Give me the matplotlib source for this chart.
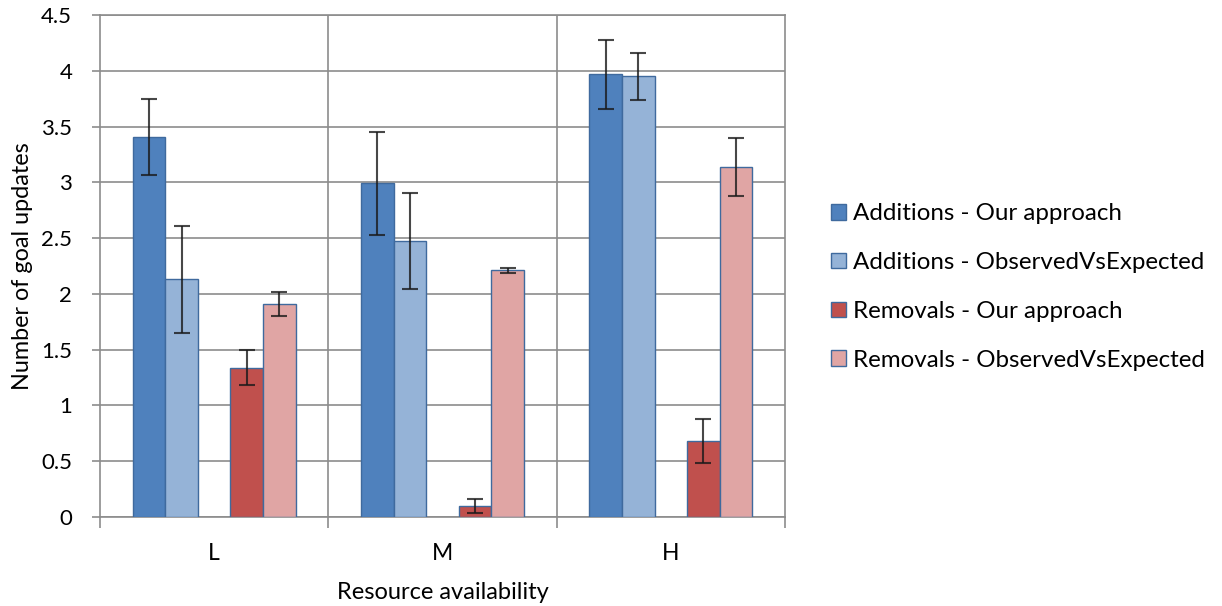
import numpy as np
import matplotlib
matplotlib.use("Agg")
import matplotlib.pyplot as plt

plt.rcParams['font.family'] = ['Lato', 'DejaVu Sans']

# data
categories = ["L", "M", "H"]
series = ["Additions - Our approach", "Additions - ObservedVsExpected",
          "Removals - Our approach", "Removals - ObservedVsExpected"]
add_ours = [3.41, 2.99, 3.97]
add_ove = [2.13, 2.47, 3.95]
rem_ours = [1.34, 0.10, 0.68]
rem_ove = [1.91, 2.21, 3.14]
err_add_ours = [0.34, 0.46, 0.31]
err_add_ove = [0.48, 0.43, 0.21]
err_rem_ours = [0.16, 0.06, 0.20]
err_rem_ove = [0.11, 0.02, 0.26]

values = [add_ours, add_ove, rem_ours, rem_ove]
errors = [err_add_ours, err_add_ove, err_rem_ours, err_rem_ove]
colors = ["#4F81BD", "#95B3D7", "#C0504D", "#E0A5A4"]
slots = [-2, -1, 1, 2]  # middle slot is empty in the original
w = 1 / 7

fig = plt.figure(figsize=(12.22, 6.06), dpi=100)
ax = fig.add_axes([100 / 1222, 1 - 517 / 606, 685 / 1222, 502 / 606])

x = np.arange(len(categories))
for vals, errs, col, s, lab in zip(values, errors, colors, slots, series):
    ax.bar(x + s * w, vals, width=w, color=col, edgecolor="#3F6A9E",
           linewidth=1, label=lab, zorder=3)
    ax.errorbar(x + s * w, vals, yerr=errs, fmt="none", ecolor="#1a1a1a",
                elinewidth=1.5, capsize=5.5, capthick=1.5, alpha=0.8, zorder=4)

ax.set_xlim(-0.5, 2.5)
ax.set_ylim(0, 4.5)
ax.set_yticks(np.arange(0, 4.51, 0.5))
ax.set_yticklabels(["0", "0.5", "1", "1.5", "2", "2.5", "3", "3.5", "4", "4.5"])
ax.yaxis.grid(True, color="#8c8c8c", linewidth=1.2, zorder=0)

ax.set_xticks(x)
ax.set_xticklabels(categories)
ax.set_xticks([-0.5, 0.5, 1.5, 2.5], minor=True)
ax.tick_params(axis="x", which="major", length=0, pad=19, labelsize=16.5)
ax.tick_params(axis="x", which="minor", length=8, width=1.2, color="#8c8c8c")
ax.tick_params(axis="y", length=6, width=1.2, color="#8c8c8c", labelsize=16, pad=14)
for b in [0.5, 1.5]:
    ax.axvline(b, color="#8c8c8c", linewidth=1.2, zorder=0)

for sp in ax.spines.values():
    sp.set_color("#8c8c8c")
    sp.set_linewidth(1.2)

ax.set_xlabel("Resource availability", fontsize=17, labelpad=13)
ax.set_ylabel("Number of goal updates", fontsize=16.8, labelpad=6)

fig.legend(loc="center left", bbox_to_anchor=(809 / 1222, 1 - 287 / 606),
           frameon=False, fontsize=17.4, labelspacing=1.15,
           handlelength=0.62, handleheight=0.62, handletextpad=0.3)

fig.savefig("out.png", dpi=100)
